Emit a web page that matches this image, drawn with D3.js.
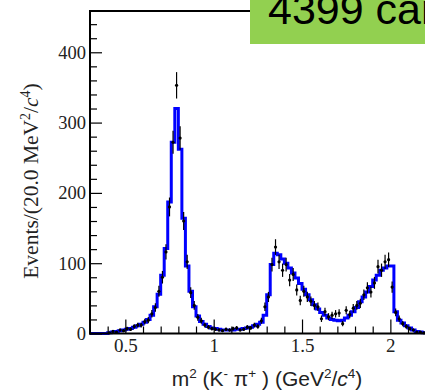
<!DOCTYPE html>
<html>
<head>
<meta charset="utf-8">
<script src="https://cdn.jsdelivr.net/npm/d3@7/dist/d3.min.js"></script>
<style>
html,body{margin:0;padding:0;background:#fff;overflow:hidden;}
svg{display:block;}
</style>
</head>
<body>
<svg id="chart" width="425" height="390"></svg>
<script>
// ---- data ----
const binStart = 0.30;
const binWidth = 0.02;
// fit histogram (blue), one value per 0.02 GeV^2 bin from 0.30
const fitCounts = [
  0,0,0,0,0,1,2,3,4,5,
  6,7,9,11,13,16,20,26,38,56,
  83,121,187,272,320,262,164,96,60,38,
  25,17,13,10,8,7,6,5,5,5,
  5,6,6,7,8,9,11,13,16,26,
  55,98,114,112,106,100,93,86,79,71,
  63,55,48,41,35,30,26,22,20,19,
  18,19,22,26,31,37,45,52,59,67,
  76,83,90,93,96,96,31,19,15,11,
  8,5,3,2,1
];
// data points (black), same bins
const dataCounts = [
  0,0,0,0,0,1,3,2,5,4,
  7,6,10,12,12,17,19,28,37,60,
  80,116,180,272,353,278,160,102,58,40,
  23,18,12,9,7,6,5,4,6,5,
  7,8,5,6,9,8,12,10,18,38,
  52,98,123,102,90,98,76,84,62,47,
  60,52,46,40,38,21,31,24,26,28,
  29,14,33,27,36,40,43,55,65,59,
  72,95,90,102,105,66,30,21,14,10,
  7,5,2,2,1
];
const xMajorTicks = [0.5, 1, 1.5, 2];
const xMajorLabels = ["0.5", "1", "1.5", "2"];
const yMajorTicks = [0, 100, 200, 300, 400];
const boxLabel = "4399 candidates";

(function () {
const svg = d3.select("#chart");
const W = 425, H = 390;
const pLeft = 90, pTop = 11, pBottom = 333.5;
const x = d3.scaleLinear().domain([0.30, 2.20]).range([pLeft, 425.7]);
const y = d3.scaleLinear().domain([0, 460]).range([pBottom, 10.1]);

svg.append("rect").attr("width", W).attr("height", H).attr("fill", "#fff");
const plot = svg.append("g");

// fit histogram as a step line
const fitPts = [];
fitCounts.forEach((c, i) => {
  const lo = binStart + i * binWidth, hi = lo + binWidth;
  fitPts.push([lo, c]);
  fitPts.push([hi, c]);
});
const line = d3.line().x(d => x(d[0])).y(d => y(d[1]));
plot.append("path")
  .attr("d", line(fitPts))
  .attr("fill", "none")
  .attr("stroke", "#0000ff")
  .attr("stroke-width", 3)
  .attr("stroke-linejoin", "miter");

// data points with sqrt(N) errors
const pts = dataCounts.map((c, i) => ({ v: binStart + (i + 0.5) * binWidth, c }))
  .filter(d => d.c > 0);
plot.selectAll("line.err").data(pts).enter().append("line")
  .attr("class", "err")
  .attr("x1", d => x(d.v)).attr("x2", d => x(d.v))
  .attr("y1", d => y(d.c + Math.sqrt(d.c)))
  .attr("y2", d => y(Math.max(0, d.c - Math.sqrt(d.c))))
  .attr("stroke", "#000").attr("stroke-width", 1.2);
plot.selectAll("circle.pt").data(pts).enter().append("circle")
  .attr("class", "pt")
  .attr("cx", d => x(d.v)).attr("cy", d => y(d.c))
  .attr("r", 1.6).attr("fill", "#000");

// ---- axes ----
const serif = "'Liberation Serif', 'Times New Roman', serif";
const sans = "'Liberation Sans', Arial, sans-serif";

const xMinor = d3.range(4, 23).map(k => k / 10).filter(v => !xMajorTicks.some(m => Math.abs(m - v) < 1e-9));
const xMinAxis = svg.append("g").attr("transform", `translate(0,${pBottom})`)
  .call(d3.axisBottom(x).tickValues(xMinor).tickSize(-7).tickFormat(""));
const xMajAxis = svg.append("g").attr("transform", `translate(0,${pBottom})`)
  .call(d3.axisBottom(x).tickValues(xMajorTicks).tickSize(-14)
    .tickFormat((d, i) => xMajorLabels[i]).tickPadding(5));
[xMinAxis, xMajAxis].forEach(g => {
  g.select(".domain").remove();
  g.selectAll(".tick line").attr("stroke", "#000").attr("stroke-width", 1.2);
});
xMajAxis.selectAll(".tick text").attr("font-family", serif).attr("font-size", 19).attr("fill", "#222");

const yMinor = d3.range(0, 461, 20).filter(v => v % 100 !== 0);
const yMinAxis = svg.append("g").attr("transform", `translate(${pLeft},0)`)
  .call(d3.axisLeft(y).tickValues(yMinor).tickSize(-7).tickFormat(""));
const yMajAxis = svg.append("g").attr("transform", `translate(${pLeft},0)`)
  .call(d3.axisLeft(y).tickValues(yMajorTicks).tickSize(-12).tickFormat(d3.format("d")).tickPadding(4));
[yMinAxis, yMajAxis].forEach(g => {
  g.select(".domain").remove();
  g.selectAll(".tick line").attr("stroke", "#000").attr("stroke-width", 1.2);
});
yMajAxis.selectAll(".tick text").attr("font-family", serif).attr("font-size", 18.5).attr("fill", "#222");

// frame lines
svg.append("line").attr("x1", pLeft).attr("x2", pLeft).attr("y1", pTop).attr("y2", pBottom + 1)
  .attr("stroke", "#000").attr("stroke-width", 2);
svg.append("line").attr("x1", pLeft - 1).attr("x2", W).attr("y1", pBottom).attr("y2", pBottom)
  .attr("stroke", "#000").attr("stroke-width", 2);
svg.append("line").attr("x1", pLeft - 1).attr("x2", W).attr("y1", pTop).attr("y2", pTop)
  .attr("stroke", "#000").attr("stroke-width", 2);

// y title
const yt = svg.append("text")
  .attr("transform", "translate(38,181) rotate(-90)")
  .attr("text-anchor", "middle")
  .attr("font-family", serif).attr("font-size", 21.5).attr("fill", "#222");
yt.append("tspan").text("Events/(20.0 MeV");
yt.append("tspan").attr("font-size", 14).attr("dy", -8).text("2");
yt.append("tspan").attr("dy", 8).text("/");
yt.append("tspan").attr("font-style", "italic").text("c");
yt.append("tspan").attr("font-size", 14).attr("dy", -8).text("4");
yt.append("tspan").attr("dy", 8).text(")");

// x title
const xt = svg.append("text")
  .attr("x", 267).attr("y", 386)
  .attr("text-anchor", "middle")
  .attr("font-family", sans).attr("font-size", 21).attr("fill", "#222");
xt.append("tspan").text("m");
xt.append("tspan").attr("font-size", 13.5).attr("dy", -8).text("2");
xt.append("tspan").attr("dy", 8).text(" (K");
xt.append("tspan").attr("font-size", 13.5).attr("dy", -8).text("-");
xt.append("tspan").attr("dy", 8).text(" π");
xt.append("tspan").attr("font-size", 13.5).attr("dy", -8).text("+");
xt.append("tspan").attr("dy", 8).text(" ) (GeV");
xt.append("tspan").attr("font-size", 13.5).attr("dy", -8).text("2");
xt.append("tspan").attr("dy", 8).text("/");
xt.append("tspan").attr("font-style", "italic").text("c");
xt.append("tspan").attr("font-size", 13.5).attr("dy", -8).text("4");
xt.append("tspan").attr("dy", 8).text(")");

// green box (text runs past the right edge, as in the reference)
svg.append("rect").attr("x", 250).attr("y", 0).attr("width", W - 250).attr("height", 44)
  .attr("fill", "#92d050");
svg.append("text").attr("x", 268).attr("y", 24)
  .attr("font-family", sans).attr("font-size", 43).attr("fill", "#000")
  .text(boxLabel);
})();
</script>
</body>
</html>
